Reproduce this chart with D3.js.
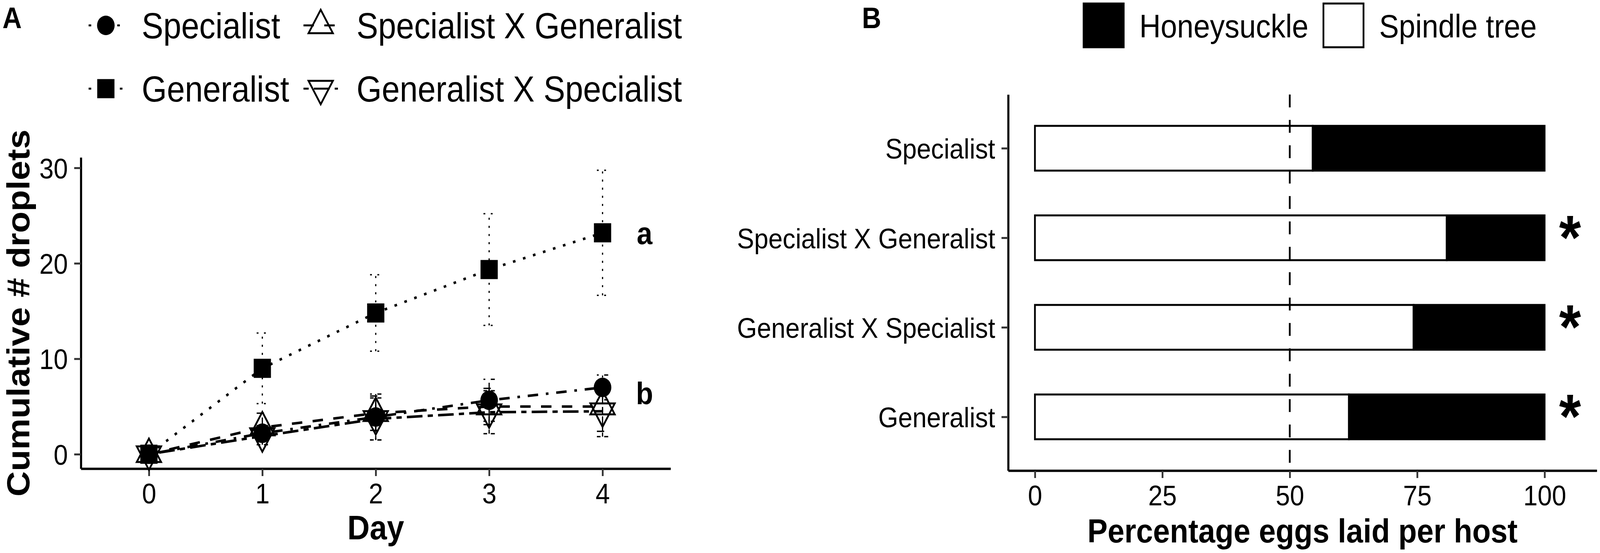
<!DOCTYPE html>
<html>
<head>
<meta charset="utf-8">
<script src="https://d3js.org/d3.v7.min.js"></script>
<style>
  html, body { margin: 0; padding: 0; background: #fff; overflow: hidden; }
  svg { display: block; }
  svg text { font-family: "Liberation Sans", Arial, Helvetica, sans-serif; fill: #000; }
  .axis .domain { stroke: #000; stroke-width: 6; }
  .axis .tick line { stroke: #333; stroke-width: 5; }
  .axis .tick text { font-size: 73px; fill: #000; }
</style>
</head>
<body>
<script>
// ---- panel A data : cumulative droplets per day ----
var days = [0, 1, 2, 3, 4];
var lineGroups = ["Specialist", "Generalist", "Specialist X Generalist", "Generalist X Specialist"];
var specialistMean = [0, 2.2, 3.9, 5.65, 7.0];
var specialistSE   = [0, 0.8, 2.4, 2.2, 1.3];
var generalistMean = [0, 9.0, 14.8, 19.35, 23.2];
var generalistSE   = [0, 3.7, 4.0, 5.85, 6.55];
var sxgMean = [0, 2.8, 4.3, 5.0, 5.0];
var sxgSE   = [0, 1.5, 1.8, 1.9, 2.6];
var gxsMean = [0, 1.9, 3.7, 4.4, 4.5];
var gxsSE   = [0, 0.9, 2.2, 2.25, 2.65];
var yTicksA = [0, 10, 20, 30];
var letterLabels = ["a", "b"];
var letterAt = [23.2, 6.4];

// ---- panel B data : percentage eggs per host ----
var hosts = ["Specialist", "Specialist X Generalist", "Generalist X Specialist", "Generalist"];
var spindlePct = [54.5, 80.8, 74.3, 61.6];
var honeysucklePct = [45.5, 19.2, 25.7, 38.4];
var signif = ["", "*", "*", "*"];
var xTicksB = [0, 25, 50, 75, 100];

var W = 4550, H = 1416;
// the drawing is laid out on a 4550x1416 grid and stretched to the window
var svg = d3.select("body").append("svg")
  .attr("viewBox", "0 0 " + W + " " + H)
  .attr("preserveAspectRatio", "none")
  .style("width", "100vw").style("height", "100vh");
svg.append("rect").attr("width", W).attr("height", H).attr("fill", "#fff");

// ================= PANEL A =================
var x = d3.scaleLinear().domain([-0.6, 4.6]).range([230, 1907]);
var y = d3.scaleLinear().domain([-1.51, 31.1]).range([1200, 403]);

var series = [
  {name: lineGroups[0], mean: specialistMean, se: specialistSE, shape: "circle", dash: [1, 3, 4, 3]},
  {name: lineGroups[1], mean: generalistMean, se: generalistSE, shape: "square", dash: [1, 3]},
  {name: lineGroups[2], mean: sxgMean, se: sxgSE, shape: "up", dash: [4, 4]},
  {name: lineGroups[3], mean: gxsMean, se: gxsSE, shape: "down", dash: [2, 2, 6, 2]}
];
function dashStr(d, u) { return d.map(function(v) { return v * u; }).join(","); }

function drawShape(g, shape, cx, cy) {
  if (shape == "circle") {
    g.append("circle").attr("cx", cx).attr("cy", cy).attr("r", 25).attr("fill", "#000");
  } else if (shape == "square") {
    g.append("rect").attr("x", cx - 24.5).attr("y", cy - 24.5).attr("width", 49).attr("height", 49).attr("fill", "#000");
  } else {
    var r = 40, hw = r * Math.sqrt(3) / 2, s = shape == "up" ? 1 : -1;
    var pts = [[cx, cy - s * r], [cx + hw, cy + s * r / 2], [cx - hw, cy + s * r / 2]];
    g.append("polygon").attr("points", pts.map(function(p) { return p.join(","); }).join(" "))
      .attr("fill", "none").attr("stroke", "#000").attr("stroke-width", 5).attr("stroke-linejoin", "miter");
  }
}

// axes
svg.append("g").attr("class", "axis").attr("transform", "translate(0,1200)")
  .call(d3.axisBottom(x).tickValues(days).tickFormat(d3.format("d")).tickSize(19).tickSizeOuter(0).tickPadding(18));
var gyA = svg.append("g").attr("class", "axis").attr("transform", "translate(230,0)")
  .call(d3.axisLeft(y).tickValues(yTicksA).tickSize(19).tickSizeOuter(0).tickPadding(18));
gyA.selectAll(".tick text").attr("dy", "0.36em");

var line = d3.line().x(function(d) { return x(d[0]); }).y(function(d) { return y(d[1]); });
var plotA = svg.append("g");

// lines
series.forEach(function(s) {
  plotA.append("path").datum(days.map(function(d, i) { return [d, s.mean[i]]; }))
    .attr("d", line).attr("fill", "none").attr("stroke", "#000").attr("stroke-width", 6.5)
    .attr("stroke-dasharray", dashStr(s.dash, 7.4));
});
// error bars
series.forEach(function(s) {
  var eb = plotA.append("g").attr("stroke", "#000").attr("stroke-width", 3.5)
    .attr("stroke-dasharray", dashStr(s.dash, 5.2)).attr("fill", "none");
  days.forEach(function(d, i) {
    if (s.se[i] <= 0) return;
    var lo = y(s.mean[i] - s.se[i]), hi = y(s.mean[i] + s.se[i]);
    eb.append("line").attr("x1", x(d)).attr("x2", x(d)).attr("y1", lo).attr("y2", hi);
    eb.append("line").attr("x1", x(d - 0.05)).attr("x2", x(d + 0.05)).attr("y1", lo).attr("y2", lo);
    eb.append("line").attr("x1", x(d - 0.05)).attr("x2", x(d + 0.05)).attr("y1", hi).attr("y2", hi);
  });
});
// points
series.forEach(function(s) {
  days.forEach(function(d, i) { drawShape(plotA, s.shape, x(d), y(s.mean[i])); });
});

// significance letters
letterLabels.forEach(function(t, i) {
  svg.append("text").attr("x", x(4.37)).attr("y", y(letterAt[i])).attr("dy", "0.36em")
    .attr("text-anchor", "middle").style("font-size", "80px").style("font-weight", "bold").text(t);
});

// axis titles
svg.append("text").attr("x", (230 + 1907) / 2).attr("y", 1381).attr("text-anchor", "middle")
  .style("font-size", "88px").style("font-weight", "bold").text("Day");
svg.append("text").attr("transform", "translate(83," + ((403 + 1200) / 2) + ") rotate(-90)")
  .attr("text-anchor", "middle").style("font-size", "90px").style("font-weight", "bold")
  .text("Cumulative # droplets");

// legend A
var legPos = [[301, 65], [301, 227], [912, 65], [912, 227]];
series.forEach(function(s, i) {
  var lg = svg.append("g");
  var cx = legPos[i][0], cy = legPos[i][1];
  lg.append("line").attr("x1", cx - 49).attr("x2", cx + 49).attr("y1", cy).attr("y2", cy)
    .attr("stroke", "#000").attr("stroke-width", 5).attr("stroke-dasharray", dashStr(s.dash, 7.4));
  drawShape(lg, s.shape, cx, cy);
  lg.append("text").attr("x", cx + 102).attr("y", cy).attr("dy", "0.36em")
    .style("font-size", "92px").text(s.name);
});

svg.append("text").attr("x", 7).attr("y", 72).style("font-size", "76px").style("font-weight", "bold").text("A");

// ================= PANEL B =================
var xb = d3.scaleLinear().domain([-5.25, 110.25]).range([2867, 4541]);
var yb = d3.scalePoint().domain(hosts).range([242, 1205]).padding(0.6);
var barH = yb.step() * 0.5;

svg.append("g").attr("class", "axis").attr("transform", "translate(0,1205)")
  .call(d3.axisBottom(xb).tickValues(xTicksB).tickSize(19).tickSizeOuter(0).tickPadding(18));
var gyB = svg.append("g").attr("class", "axis").attr("transform", "translate(2867,0)")
  .call(d3.axisLeft(yb).tickSize(19).tickSizeOuter(0).tickPadding(18));
gyB.selectAll(".tick text").attr("dy", "0.36em");

var bars = svg.append("g");
hosts.forEach(function(h, i) {
  var top = yb(h) - barH / 2;
  bars.append("rect").attr("x", xb(0)).attr("y", top).attr("width", xb(spindlePct[i]) - xb(0)).attr("height", barH)
    .attr("fill", "#fff").attr("stroke", "#000").attr("stroke-width", 5);
  bars.append("rect").attr("x", xb(spindlePct[i])).attr("y", top)
    .attr("width", xb(spindlePct[i] + honeysucklePct[i]) - xb(spindlePct[i])).attr("height", barH)
    .attr("fill", "#000").attr("stroke", "#000").attr("stroke-width", 5);
  svg.append("text").attr("x", xb(105)).attr("y", yb(h) + 54).attr("text-anchor", "middle")
    .style("font-size", "160px").style("font-weight", "bold").text(signif[i]);
});

// 50% reference line
svg.append("line").attr("x1", xb(50)).attr("x2", xb(50)).attr("y1", 242).attr("y2", 1205)
  .attr("stroke", "#000").attr("stroke-width", 5).attr("stroke-dasharray", "33,32");

svg.append("text").attr("x", (2867 + 4541) / 2).attr("y", 1389).attr("text-anchor", "middle")
  .style("font-size", "86px").style("font-weight", "bold").text("Percentage eggs laid per host");

// legend B
var legB = [["Honeysuckle", "#000", 3079], ["Spindle tree", "#fff", 3761]];
legB.forEach(function(l) {
  svg.append("rect").attr("x", l[2] + 2.5).attr("y", 9).attr("width", 114).attr("height", 112)
    .attr("fill", l[1]).attr("stroke", "#000").attr("stroke-width", 5);
  svg.append("text").attr("x", l[2] + 161).attr("y", 66).attr("dy", "0.36em")
    .style("font-size", "84px").text(l[0]);
});

svg.append("text").attr("x", 2451).attr("y", 72).style("font-size", "76px").style("font-weight", "bold").text("B");
</script>
</body>
</html>
